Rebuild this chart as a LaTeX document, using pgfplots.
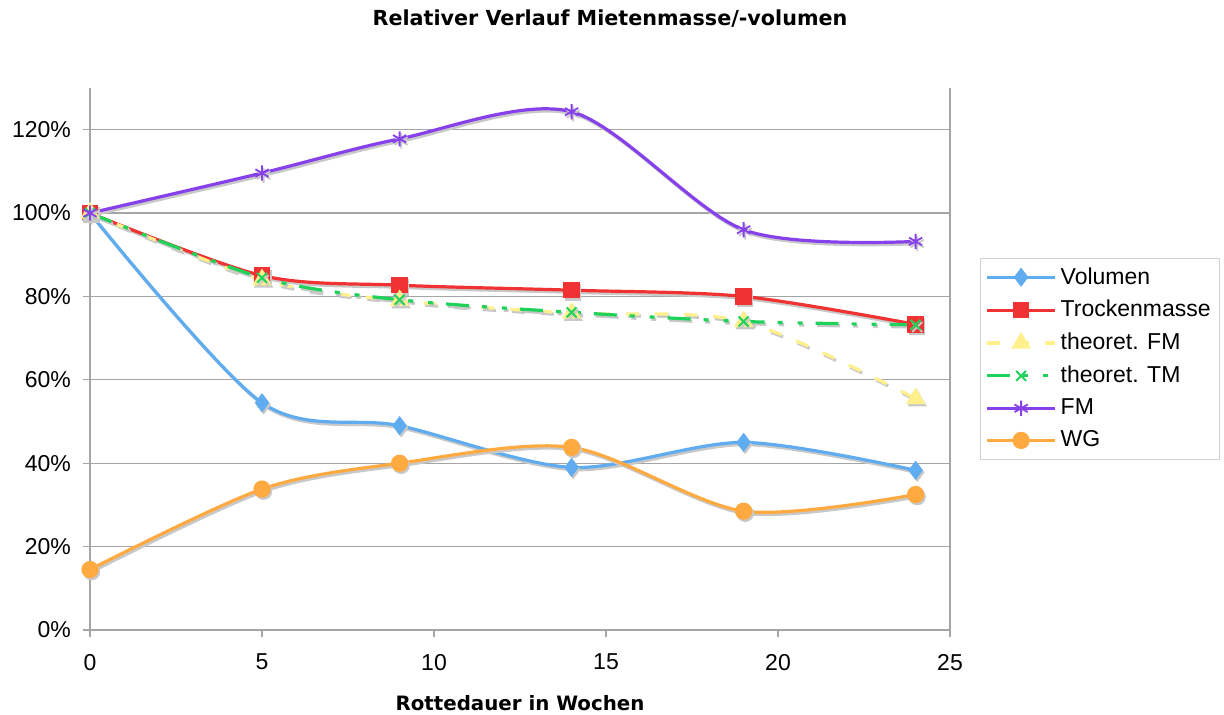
\documentclass[border=0pt]{standalone}
\usepackage{pgfplots}
\pgfplotsset{compat=1.18}
\usepackage{fontspec}
\setmainfont{Liberation Sans}
\newfontfamily\titlefont{DejaVu Sans}
\definecolor{cVol}{RGB}{95,172,240}
\definecolor{cTM}{RGB}{240,50,50}
\definecolor{cTFM}{RGB}{255,240,140}
\definecolor{cTTM}{RGB}{30,210,90}
\definecolor{cFM}{RGB}{135,65,235}
\definecolor{cWG}{RGB}{255,170,65}
\definecolor{cGrid}{RGB}{165,165,165}
\definecolor{cShadow}{RGB}{200,200,200}
\begin{document}
\begin{tikzpicture}
\path[use as bounding box] (-45pt,-42.5pt) rectangle (567pt,315pt);
\begin{axis}[
  scale only axis, width=430pt, height=271pt,
  xmin=0, xmax=25, ymin=0, ymax=130,
  xtick={0,5,...,25}, ytick={0,20,...,120},
  xtick pos=bottom, ytick pos=left,
  yticklabel={\pgfmathprintnumber{\tick}\%},
  /pgf/number format/assume math mode=true,
  ticklabel style={font=\fontsize{11.5}{13}\selectfont},
  xticklabel style={yshift=-5pt},
  yticklabel style={xshift=-2.5pt},
  tick align=outside, major tick length=3.5pt,
  tick style={cGrid, line width=0.6pt},
  ymajorgrids, grid style={cGrid, line width=0.6pt},
  axis line style={draw=none},
  clip=false,
  every axis plot/.append style={smooth, tension=0.5, line width=1.6pt},
  shadow/.style={forget plot, draw=cShadow, shift={(0.8pt,-1.1pt)}},
  legend cell align=left,
  legend style={at={(rel axis cs:1.035,0.6863)}, anchor=north west,
    draw=black!18, font=\fontsize{11.5}{13.5}\selectfont, inner sep=2.5pt, row sep=2.6pt},
  legend image code/.code={\draw[mark repeat=2,mark phase=2,#1] plot coordinates {(0pt,0pt) (17pt,0pt) (34pt,0pt)};},
]
\draw[cGrid, line width=0.7pt] (rel axis cs:0,1)--(rel axis cs:0,0)--(rel axis cs:1,0)--(rel axis cs:1,1);
% Volumen
\addplot[shadow, mark=diamond*, mark size=3.5pt, mark options={fill=cShadow, draw=cShadow}] coordinates {(0,100)(5,54.5)(9,49)(14,39)(19,45)(24,38.3)};
\addplot[cVol, mark=diamond*, mark size=3.5pt, mark options={fill=cVol}] coordinates {(0,100)(5,54.5)(9,49)(14,39)(19,45)(24,38.3)};
\addlegendentry{Volumen}
% Trockenmasse
\addplot[shadow, mark=square*, mark size=3.3pt, mark options={fill=cShadow, draw=cShadow}] coordinates {(0,100)(5,85)(9,82.7)(14,81.5)(19,80)(24,73.3)};
\addplot[cTM, mark=square*, mark size=3.3pt, mark options={fill=cTM}] coordinates {(0,100)(5,85)(9,82.7)(14,81.5)(19,80)(24,73.3)};
\addlegendentry{Trockenmasse}
% theoret FM
\addplot[shadow, dash pattern=on 6.5pt off 8pt, mark=triangle*, mark size=4pt, mark options={solid, fill=cShadow, draw=cShadow}] coordinates {(0,100)(5,84)(9,79)(14,76)(19,74)(24,55.5)};
\addplot[cTFM, dash pattern=on 6.5pt off 8pt, mark=triangle*, mark size=4pt, mark options={solid, fill=cTFM}] coordinates {(0,100)(5,84)(9,79)(14,76)(19,74)(24,55.5)};
\addlegendentry{theoret. FM}
% theoret TM
\addplot[shadow, dash pattern=on 11.5pt off 6.5pt on 2.5pt off 7.5pt on 2.5pt off 6.5pt, mark=x, mark size=3.5pt, mark options={solid, line width=1pt, draw=cShadow}] coordinates {(0,100)(5,84.5)(9,79.2)(14,76.2)(19,74)(24,73.2)};
\addplot[cTTM, dash pattern=on 11.5pt off 6.5pt on 2.5pt off 7.5pt on 2.5pt off 6.5pt, mark=x, mark size=3.5pt, mark options={solid, line width=1pt}] coordinates {(0,100)(5,84.5)(9,79.2)(14,76.2)(19,74)(24,73.2)};
\addlegendentry{theoret. TM}
% FM
\addplot[shadow, mark=asterisk, mark size=3.8pt, mark options={line width=0.9pt, draw=cShadow}] coordinates {(0,100)(5,109.6)(9,117.8)(14,124.3)(19,96)(24,93.2)};
\addplot[cFM, mark=asterisk, mark size=3.8pt, mark options={line width=0.9pt}] coordinates {(0,100)(5,109.6)(9,117.8)(14,124.3)(19,96)(24,93.2)};
\addlegendentry{FM}
% WG
\addplot[shadow, mark=*, mark size=3.5pt, mark options={fill=cShadow, draw=cShadow}] coordinates {(0,14.5)(5,33.8)(9,40)(14,43.8)(19,28.5)(24,32.5)};
\addplot[cWG, mark=*, mark size=3.5pt, mark options={fill=cWG}] coordinates {(0,14.5)(5,33.8)(9,40)(14,43.8)(19,28.5)(24,32.5)};
\addlegendentry{WG}
\end{axis}
\node[font=\titlefont\bfseries\fontsize{10.35}{12}\selectfont] at (260pt,305.5pt) {Relativer Verlauf Mietenmasse/-volumen};
\node[font=\titlefont\bfseries\fontsize{9.9}{11}\selectfont] at (215pt,-36.5pt) {Rottedauer in Wochen};
\end{tikzpicture}
\end{document}
